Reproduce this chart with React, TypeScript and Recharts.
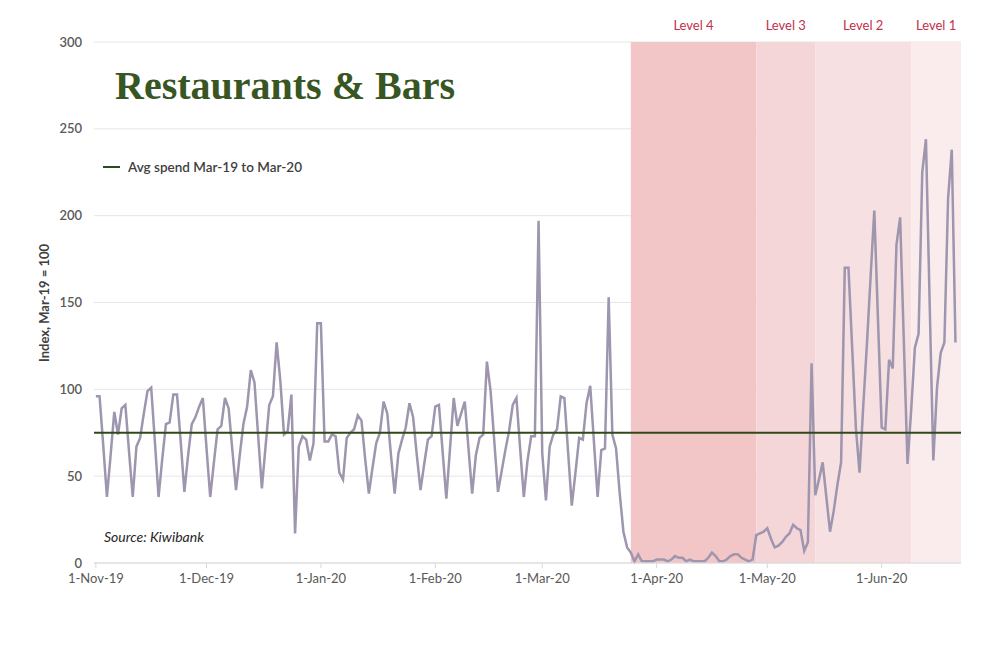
import {
  CartesianGrid,
  Line,
  LineChart,
  ReferenceArea,
  ReferenceLine,
  XAxis,
  YAxis,
} from "recharts";

// daily spend index, 1-Nov-19 onwards (Mar-19 = 100)
const spend = [
  96, 96, 68, 38, 62, 87, 74, 89, 91, 64, 38, 67, 72, 86, 99, 101, 70, 38, 60, 80,
  81, 97, 97, 70, 41, 62, 80, 84, 90, 95, 66, 38, 58, 77, 79, 95, 89, 65, 42, 62,
  80, 90, 111, 104, 73, 43, 67, 91, 96, 127, 105, 74, 76, 97, 17, 67, 73, 71, 59, 69,
  138, 138, 70, 70, 74, 73, 52, 48, 72, 75, 77, 85, 82, 60, 40, 55, 69, 75, 93, 86,
  62, 40, 63, 71, 78, 92, 84, 62, 42, 57, 71, 73, 90, 91, 64, 37, 66, 95, 79, 86,
  93, 66, 40, 62, 72, 74, 116, 99, 70, 41, 53, 65, 76, 91, 95, 66, 38, 59, 73, 73,
  197, 63, 36, 67, 74, 77, 96, 95, 64, 33, 52, 72, 71, 92, 102, 70, 38, 65, 66, 153,
  74, 66, 40, 18, 9, 6, 1, 5, 1, 1, 1, 1, 2, 2, 2, 1, 2, 4, 3, 3,
  1, 2, 1, 1, 1, 1, 3, 6, 4, 1, 1, 2, 4, 5, 5, 3, 2, 1, 2, 16,
  17, 18, 20, 14, 9, 10, 12, 15, 17, 22, 20, 19, 7, 12, 115, 39, 48, 58, 38, 18,
  30, 45, 58, 170, 170, 124, 78, 52, 90, 126, 165, 203, 140, 78, 77, 117, 112, 183, 199, 128,
  57, 88, 124, 132, 225, 244, 150, 59, 101, 121, 127, 210, 238, 127,
];

const avgSpend = 75;

const monthStarts = [0, 30, 61, 92, 121, 152, 182, 213];
const monthLabels = [
  "1-Nov-19",
  "1-Dec-19",
  "1-Jan-20",
  "1-Feb-20",
  "1-Mar-20",
  "1-Apr-20",
  "1-May-20",
  "1-Jun-20",
];
const yTicks = [0, 50, 100, 150, 200, 250, 300];

const levelNames = ["Level 4", "Level 3", "Level 2", "Level 1"];
const levelStarts = [145, 179, 195, 221];
const levelEnds = [179, 195, 221, 234.5];
const levelFills = ["#f2c5c6", "#f5d6d8", "#f7e0e2", "#faeced"];

const data = spend.map((v, i) => ({ day: i, spend: v }));

const axisFont = "Lato, 'Open Sans', sans-serif";

export default function App() {
  return (
    <div
      style={{
        position: "absolute",
        left: 0,
        top: 0,
        width: 1000,
        height: 664,
        background: "#fff",
        fontFamily: axisFont,
      }}
    >
      <LineChart
        width={1000}
        height={664}
        data={data}
        margin={{ top: 42, right: 39, bottom: 71, left: 0 }}
      >
        <CartesianGrid stroke="#e6e6e6" vertical={false} />
        {levelNames.map((name, i) => (
          <ReferenceArea
            key={name}
            x1={levelStarts[i]}
            x2={levelEnds[i]}
            y1={0}
            y2={300}
            fill={levelFills[i]}
            fillOpacity={1}
            stroke="none"
            label={{
              value: name,
              position: "top",
              offset: 12,
              fill: "#bf2f4b",
              fontSize: 13,
              fontFamily: axisFont,
            }}
          />
        ))}
        <XAxis
          dataKey="day"
          type="number"
          domain={[-0.5, 234.5]}
          ticks={monthStarts}
          tickFormatter={(v: number) => monthLabels[monthStarts.indexOf(v)]}
          height={30}
          axisLine={{ stroke: "#d9d9d9" }}
          tickLine={{ stroke: "#d9d9d9" }}
          tickSize={5}
          tickMargin={6}
          tick={{ fill: "#595959", fontSize: 13, fontFamily: axisFont }}
        />
        <YAxis
          domain={[0, 300]}
          ticks={yTicks}
          width={94}
          axisLine={false}
          tickLine={false}
          tickSize={6}
          tickMargin={6}
          tick={{ fill: "#595959", fontSize: 13, fontWeight: 600, fontFamily: axisFont }}
        />
        <Line
          type="linear"
          dataKey="spend"
          stroke="#9e95ae"
          strokeWidth={2.5}
          dot={false}
          isAnimationActive={false}
        />
        <ReferenceLine y={avgSpend} stroke="#2f4a17" strokeWidth={2} />
      </LineChart>

      <div
        style={{
          position: "absolute",
          left: 115,
          top: 66,
          fontFamily: "'Liberation Serif', serif",
          fontWeight: "bold",
          fontSize: 40,
          lineHeight: "40px",
          color: "#375623",
          whiteSpace: "nowrap",
        }}
      >
        Restaurants &amp; Bars
      </div>

      <div
        style={{
          position: "absolute",
          left: 103,
          top: 158,
          height: 18,
          display: "flex",
          alignItems: "center",
          fontSize: 13.5,
          fontWeight: 600,
          color: "#404040",
          whiteSpace: "nowrap",
        }}
      >
        <span
          style={{
            display: "inline-block",
            width: 17,
            height: 2,
            background: "#2f4a17",
            marginRight: 8,
          }}
        />
        Avg spend Mar-19 to Mar-20
      </div>

      <div
        style={{
          position: "absolute",
          left: 104,
          top: 528,
          fontSize: 14,
          fontStyle: "italic",
          color: "#262626",
          whiteSpace: "nowrap",
        }}
      >
        Source: Kiwibank
      </div>

      <div
        style={{
          position: "absolute",
          left: 44,
          top: 303,
          transform: "translate(-50%, -50%) rotate(-90deg)",
          fontSize: 13,
          fontWeight: 700,
          color: "#404040",
          whiteSpace: "nowrap",
        }}
      >
        Index, Mar-19 = 100
      </div>
    </div>
  );
}
